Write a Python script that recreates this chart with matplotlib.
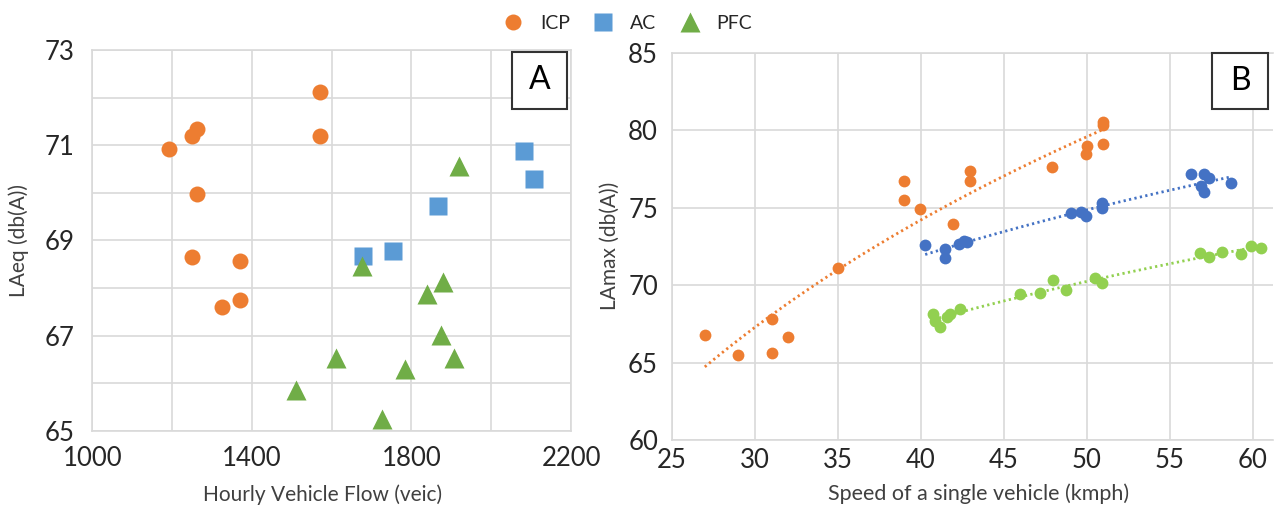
import numpy as np
import matplotlib
matplotlib.use("Agg")
import matplotlib.pyplot as plt
from matplotlib.lines import Line2D
from matplotlib.patches import Rectangle

plt.rcParams['font.family'] = ['Lato', 'DejaVu Sans']

# == panel A: hourly flow vs LAeq ==
icpFlow = [1192, 1251, 1263, 1263, 1251, 1571, 1571, 1370, 1326, 1370]
icpLaeq = [70.93, 71.19, 71.35, 69.97, 68.65, 72.12, 71.19, 68.56, 67.61, 67.75]
acFlow = [2081, 2108, 1866, 1754, 1679]
acLaeq = [70.88, 70.28, 69.72, 68.78, 68.67]
pfcFlow = [1918, 1675, 1880, 1839, 1873, 1612, 1907, 1783, 1511, 1727]
pfcLaeq = [70.56, 68.47, 68.13, 67.87, 67.01, 66.52, 66.52, 66.30, 65.86, 65.25]

# == panel B: single vehicle speed vs LAmax ==
icpSpeed = [26.98, 28.97, 31.0, 31.0, 32.0, 35.0, 38.96, 38.96, 39.96, 41.96,
            42.96, 42.96, 47.92, 49.92, 50.0, 51.0, 51.0, 51.0]
icpLamax = [66.8, 65.5, 67.81, 65.61, 66.62, 71.1, 76.71, 75.48, 74.9, 73.92,
            77.35, 76.71, 77.59, 78.45, 78.95, 79.1, 80.3, 80.55]
acSpeed = [40.26, 41.46, 41.46, 42.3, 42.6, 42.8, 49.06, 49.66, 49.96, 50.92,
           50.92, 56.3, 57.05, 57.37, 56.87, 57.05, 58.7]
acLamax = [72.58, 72.3, 71.75, 72.62, 72.84, 72.8, 74.63, 74.73, 74.45, 75.27,
           74.95, 77.16, 77.2, 76.88, 76.39, 75.98, 76.6]
pfcSpeed = [40.76, 40.86, 41.16, 41.56, 41.76, 42.36, 45.96, 47.16, 47.96, 48.72,
            50.5, 50.92, 56.83, 57.37, 58.13, 59.27, 59.87, 60.47]
pfcLamax = [68.12, 67.7, 67.27, 67.92, 68.12, 68.48, 69.42, 69.5, 70.32, 69.68,
            70.47, 70.11, 72.05, 71.79, 72.11, 71.98, 72.52, 72.41]

orange = '#ED7D31'
blueA, greenA = '#5B9BD5', '#70AD47'
blueB, greenB = '#4472C4', '#92D050'
gridCol = '#D9D9D9'
textCol = '#262626'
labelSize = 15


def styleAxes(ax):
    ax.grid(True, which='both', color=gridCol, lw=1.2)
    ax.set_axisbelow(True)
    for s in ax.spines.values():
        s.set_color(gridCol)
        s.set_linewidth(1.2)
    ax.tick_params(which='both', length=0, labelsize=18.5, colors=textCol)


def labelBox(ax, text, x0, y0, x1, y1):
    ax.add_patch(Rectangle((x0, y0), x1 - x0, y1 - y0, transform=ax.transAxes,
                           facecolor='white', edgecolor='#333333', lw=1.5,
                           zorder=5, clip_on=False))
    ax.text((x0 + x1) / 2, (y0 + y1) / 2, text, transform=ax.transAxes,
            ha='center', va='center', fontsize=23, color='black', zorder=6)


def logTrend(ax, xs, ys, color):
    # logarithmic trendline, like the spreadsheet one
    c = np.polyfit(np.log(xs), ys, 1)
    xx = np.linspace(min(xs), max(xs), 200)
    ax.plot(xx, c[0] * np.log(xx) + c[1], color=color, lw=2,
            ls=(0, (0.8, 1.2)), zorder=2)


fig = plt.figure(figsize=(12.87, 5.16), dpi=100)
axA = fig.add_axes([0.0717, 0.1653, 0.372, 0.7378])
axB = fig.add_axes([0.5221, 0.1473, 0.4668, 0.7506])

# panel A
axA.plot(icpFlow, icpLaeq, 'o', color=orange, ms=11.5, mec='none', zorder=3)
axA.plot(acFlow, acLaeq, 's', color=blueA, ms=13.5, mec='none', zorder=3)
axA.plot(pfcFlow, pfcLaeq, '^', color=greenA, ms=15, mec='none', zorder=3)
axA.set_xlim(1000, 2200)
axA.set_ylim(65, 73)
axA.set_xticks([1000, 1400, 1800, 2200])
axA.set_xticks([1200, 1600, 2000], minor=True)
axA.set_yticks([65, 67, 69, 71, 73])
axA.set_yticks([66, 68, 70, 72], minor=True)
styleAxes(axA)
axA.tick_params(axis='y', pad=13)
axA.tick_params(axis='x', pad=11)
axA.set_ylabel('LAeq (db(A))', fontsize=labelSize, color='#404040')
axA.yaxis.set_label_coords(-0.133, 0.5)
axA.set_xlabel('Hourly Vehicle Flow (veic)', fontsize=labelSize, color='#404040')
axA.xaxis.set_label_coords(0.48, -0.14)
labelBox(axA, 'A', 0.876, 0.845, 0.992, 0.995)

# panel B
logTrend(axB, icpSpeed, icpLamax, orange)
logTrend(axB, acSpeed, acLamax, blueB)
logTrend(axB, pfcSpeed, pfcLamax, greenB)
axB.plot(icpSpeed, icpLamax, 'o', color=orange, ms=8.5, mec='none', zorder=3)
axB.plot(acSpeed, acLamax, 'o', color=blueB, ms=8.5, mec='none', zorder=3)
axB.plot(pfcSpeed, pfcLamax, 'o', color=greenB, ms=8.5, mec='none', zorder=3)
axB.set_xlim(25, 61.2)
axB.set_ylim(60, 85)
axB.set_xticks(np.arange(25, 61, 5))
axB.set_yticks(np.arange(60, 86, 5))
styleAxes(axB)
axB.spines['right'].set_visible(False)
axB.tick_params(axis='y', pad=10)
axB.tick_params(axis='x', pad=6)
axB.set_ylabel('LAmax (db(A))', fontsize=labelSize, color='#404040')
axB.yaxis.set_label_coords(-0.087, 0.5)
axB.set_xlabel('Speed of a single vehicle (kmph)', fontsize=15.5, color='#404040')
axB.xaxis.set_label_coords(0.51, -0.113)
labelBox(axB, 'B', 0.899, 0.854, 0.992, 0.999)

# shared legend on top
handles = [Line2D([], [], marker='o', ls='none', color=orange, ms=11.5, mec='none'),
           Line2D([], [], marker='s', ls='none', color=blueA, ms=13.5, mec='none'),
           Line2D([], [], marker='^', ls='none', color=greenA, ms=15, mec='none')]
fig.legend(handles, ['ICP', 'AC', 'PFC'], loc='upper center', ncol=3,
           bbox_to_anchor=(0.487, 1.005), frameon=False, fontsize=14,
           handlelength=1.2, handletextpad=0.8, columnspacing=1.1,
           labelcolor=textCol)

fig.savefig('out.png', dpi=100)
